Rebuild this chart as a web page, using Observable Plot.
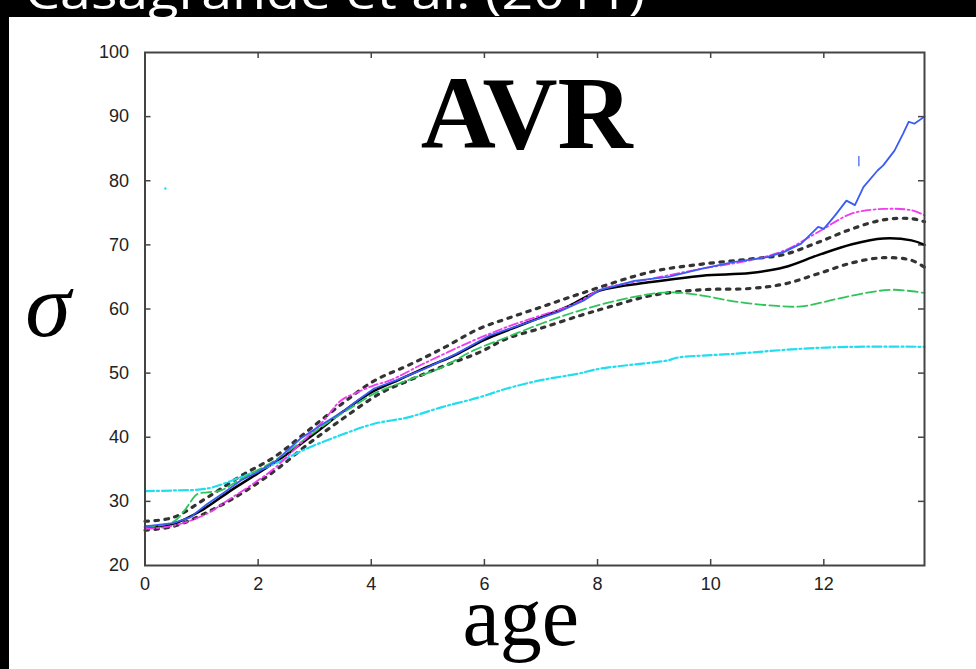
<!DOCTYPE html>
<html>
<head>
<meta charset="utf-8">
<script src="https://cdn.jsdelivr.net/npm/d3@7"></script>
<script src="https://cdn.jsdelivr.net/npm/@observablehq/plot@0.6"></script>
<style>
  html, body { margin: 0; padding: 0; }
  body { background: #000; width: 976px; height: 669px; overflow: hidden; position: relative; }
  #title { position: absolute; left: 0; top: 0; }
  #panel { position: absolute; left: 9px; top: 17px; right: 0; bottom: 0; background: #fff; }
  #chart { position: absolute; left: 0; top: 0; }
</style>
</head>
<body>
<svg id="title" width="976" height="24">
  <text x="25" y="9" font-family="Open Sans, sans-serif" font-size="46" fill="#fff"
        textLength="620" lengthAdjust="spacingAndGlyphs">Casagrande et al. (2011)</text>
</svg>
<div id="panel"></div>
<div id="chart"></div>
<script>
// Axis ticks
const xTicks = [0, 2, 4, 6, 8, 10, 12];
const yTicks = [20, 30, 40, 50, 60, 70, 80, 90, 100];

// Mean age–velocity relation (solid black)
const meanAge   = [0, 0.5, 1.0, 1.5, 2.0, 2.5, 3.0, 3.5, 4.0, 4.5, 5.0, 5.5, 6.0, 6.5, 7.0, 7.5, 8.05, 8.95, 9.85, 10.7, 11.3, 11.9, 12.5, 13.05, 13.55, 13.78];
const meanSigma = [26.0, 26.5, 28.6, 31.6, 34.4, 37.3, 40.6, 44.0, 47.0, 49.0, 51.0, 52.9, 55.2, 57.0, 58.7, 60.5, 62.9, 64.2, 65.2, 65.6, 66.5, 68.4, 70.1, 71.0, 70.7, 70.0];

// Upper and lower bounds (dotted)
const upperAge   = [0, 0.5, 1.1, 1.7, 2.3, 2.85, 3.45, 4.05, 4.65, 5.25, 5.9, 6.4, 7.0, 7.7, 8.95, 9.85, 10.7, 11.3, 11.9, 12.5, 13.05, 13.55, 13.78];
const upperSigma = [26.9, 27.5, 30.6, 34.0, 37.0, 40.8, 45.0, 48.8, 51.2, 53.8, 56.9, 58.5, 60.3, 62.4, 65.8, 67.0, 67.8, 68.5, 70.4, 72.5, 73.9, 74.1, 73.6];
const lowerAge   = [0, 0.5, 1.1, 1.7, 2.3, 2.85, 3.45, 4.15, 4.65, 5.25, 5.9, 6.4, 7.0, 7.7, 8.2, 8.95, 9.85, 10.7, 11.3, 11.9, 12.5, 13.05, 13.55, 13.78];
const lowerSigma = [25.5, 26.1, 28.3, 31.2, 34.8, 38.7, 42.6, 46.8, 48.8, 51.0, 53.2, 55.4, 57.0, 59.0, 60.3, 62.1, 63.0, 63.2, 63.9, 65.5, 67.2, 68.0, 67.6, 66.5];

// Individual samples
const blueAge   = [0, 0.5, 0.8, 1.1, 1.4, 1.7, 2.0, 2.3, 2.75, 3.15, 3.5, 3.75, 4.05, 4.45, 4.95, 5.5, 6.1, 6.7, 7.3, 7.75, 8.05, 8.65, 9.25, 9.85, 10.4, 11.0, 11.3, 11.6, 11.9, 12.0, 12.2, 12.4, 12.55, 12.7, 12.95, 13.05, 13.25, 13.4, 13.5, 13.6, 13.78];
const blueSigma = [26.1, 26.6, 27.5, 29.6, 31.4, 33.3, 34.6, 36.2, 39.8, 42.1, 44.0, 45.7, 47.6, 48.9, 50.7, 53.0, 55.9, 57.7, 59.5, 61.3, 63.0, 64.4, 65.0, 66.3, 67.3, 68.1, 68.9, 70.2, 72.8, 72.5, 74.6, 76.9, 76.2, 79.0, 81.6, 82.4, 84.7, 87.3, 89.2, 88.9, 90.0];

const magentaAge   = [0, 0.5, 1.1, 1.45, 1.87, 2.28, 2.63, 2.99, 3.16, 3.46, 3.75, 4.05, 4.34, 4.93, 5.81, 6.4, 7.0, 7.6, 8.05, 9.0, 9.85, 10.7, 11.3, 11.9, 12.5, 13.05, 13.55, 13.78];
const magentaSigma = [25.7, 26.2, 28.1, 30.1, 32.5, 35.1, 38.0, 41.1, 42.6, 45.7, 47.0, 48.1, 48.9, 51.5, 55.1, 57.2, 59.0, 60.8, 63.0, 64.8, 66.3, 67.6, 69.1, 72.0, 74.9, 75.6, 75.4, 74.6];

const greenAge   = [0, 0.5, 0.7, 0.92, 1.1, 1.34, 1.7, 2.3, 2.75, 3.2, 3.75, 4.05, 4.65, 5.25, 5.8, 6.4, 7.0, 7.7, 8.6, 9.25, 9.85, 10.4, 11.0, 11.6, 12.2, 12.8, 13.25, 13.78];
const greenSigma = [26.0, 26.8, 28.6, 31.1, 31.4, 31.7, 33.5, 36.4, 39.2, 42.1, 45.2, 46.8, 48.9, 50.9, 53.5, 55.6, 57.7, 59.8, 61.8, 62.6, 62.1, 61.2, 60.6, 60.4, 61.5, 62.6, 63.0, 62.5];

const cyanAge   = [0, 0.5, 1.1, 1.7, 2.3, 2.85, 3.45, 4.05, 4.65, 5.25, 5.9, 6.4, 7.0, 7.65, 8.05, 9.25, 9.4, 10.4, 11.6, 12.5, 13.78];
const cyanSigma = [31.6, 31.7, 32.0, 33.8, 35.9, 38.2, 40.3, 42.1, 43.1, 44.7, 46.2, 47.6, 48.9, 49.9, 50.7, 52.0, 52.4, 53.0, 53.8, 54.1, 54.1];

// Stray specks
const cyanSpeckAge = [0.36], cyanSpeckSigma = [78.8];
const blueSpeckAge = [12.62], blueSpeckLow = [82.2], blueSpeckHigh = [83.8];

const rows = (ages, sig) => ages.map((a, i) => ({age: a, sigma: sig[i]}));

const W = 976, H = 669;
const mL = 144.5, mR = 52, mT = 52, mB = 104;
const innerH = H - mT - mB, innerW = W - mL - mR;
const tickLen = 6;
const frameColor = "#444";
const labelFont = "Liberation Sans, Arial, sans-serif";

const chart = Plot.plot({
  width: W,
  height: H,
  marginLeft: mL,
  marginRight: mR,
  marginTop: mT,
  marginBottom: mB,
  style: {background: "transparent", overflow: "visible"},
  x: {domain: [0, 13.78], label: null},
  y: {domain: [20, 100], label: null},
  marks: [
    // inward ticks on all four sides
    Plot.tickX(xTicks.filter(t => t > 0), {x: d => d, insetTop: innerH - tickLen, stroke: frameColor, strokeWidth: 1.5}),
    Plot.tickX(xTicks.filter(t => t > 0), {x: d => d, insetBottom: innerH - tickLen, stroke: frameColor, strokeWidth: 1.5}),
    Plot.tickY(yTicks.filter(t => t > 20 && t < 100), {y: d => d, insetRight: innerW - tickLen, stroke: frameColor, strokeWidth: 1.5}),
    Plot.tickY(yTicks.filter(t => t > 20 && t < 100), {y: d => d, insetLeft: innerW - tickLen, stroke: frameColor, strokeWidth: 1.5}),
    Plot.axisX(xTicks, {tickSize: 0, tickPadding: 12, fontSize: 18, fill: "#222", fontFamily: labelFont, label: null}),
    Plot.axisY(yTicks, {tickSize: 0, tickPadding: 16, fontSize: 18, fill: "#222", fontFamily: labelFont, label: null}),

    // bounds
    Plot.line(rows(upperAge, upperSigma), {x: "age", y: "sigma", curve: "catmull-rom", stroke: "#333", strokeWidth: 3.2, strokeDasharray: "3.5 6.5"}),
    Plot.line(rows(lowerAge, lowerSigma), {x: "age", y: "sigma", curve: "catmull-rom", stroke: "#333", strokeWidth: 3.2, strokeDasharray: "3.5 6.5"}),
    // mean relation
    Plot.line(rows(meanAge, meanSigma), {x: "age", y: "sigma", curve: "catmull-rom", stroke: "#000", strokeWidth: 2.5}),
    // samples
    Plot.line(rows(cyanAge, cyanSigma), {x: "age", y: "sigma", curve: "catmull-rom", stroke: "#22dcf0", strokeWidth: 2.2, strokeDasharray: "9 3 2 3"}),
    Plot.line(rows(greenAge, greenSigma), {x: "age", y: "sigma", curve: "catmull-rom", stroke: "#2fc45a", strokeWidth: 1.8, strokeDasharray: "10 4"}),
    Plot.line(rows(magentaAge, magentaSigma), {x: "age", y: "sigma", curve: "catmull-rom", stroke: "#f03cf0", strokeWidth: 1.8, strokeDasharray: "9 3 2 3"}),
    Plot.line(rows(blueAge, blueSigma), {x: "age", y: "sigma", stroke: "#3a5cf5", strokeWidth: 1.8}),
    Plot.dot(rows(cyanSpeckAge, cyanSpeckSigma), {x: "age", y: "sigma", r: 1.2, fill: "#22dcf0", stroke: null}),
    Plot.ruleX(blueSpeckAge.map((a, i) => ({age: a, lo: blueSpeckLow[i], hi: blueSpeckHigh[i]})), {x: "age", y1: "lo", y2: "hi", stroke: "#3a5cf5", strokeWidth: 1.2}),

    Plot.frame({stroke: frameColor, strokeWidth: 2}),

    // annotations
    Plot.text(["AVR"], {frameAnchor: "top", dx: -8, dy: 62, fontSize: 104, fontWeight: "bold", fontFamily: "Liberation Serif, serif", fill: "#000", lineAnchor: "middle"}),
    Plot.text(["σ"], {frameAnchor: "left", dx: -97, dy: -2, fontSize: 92, fontStyle: "italic", fontFamily: "Liberation Serif, serif", fill: "#000", textAnchor: "middle", lineAnchor: "middle"}),
    Plot.text(["age"], {frameAnchor: "bottom", dx: -14, dy: 53, fontSize: 84, fontFamily: "Liberation Serif, serif", fill: "#000", lineAnchor: "middle"})
  ]
});
document.getElementById("chart").appendChild(chart);
</script>
</body>
</html>
